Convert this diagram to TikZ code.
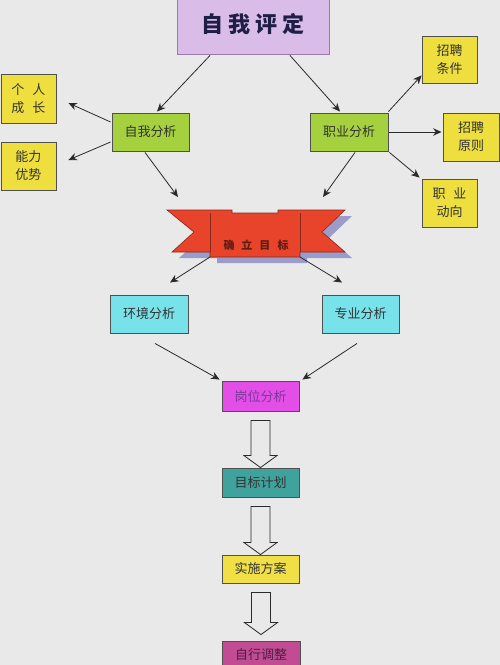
\documentclass[tikz,border=0pt]{standalone}
\usepackage{fontspec}
\newfontfamily\cjk{Noto Sans CJK SC}
\usetikzlibrary{arrows.meta,calc}
\definecolor{bg}{HTML}{E9E9E9}
\definecolor{lav}{HTML}{D9BCE8}
\definecolor{titleline}{HTML}{9A7AAA}
\definecolor{titletxt}{HTML}{1E1E46}
\definecolor{yel}{HTML}{EEDF3E}
\definecolor{grn}{HTML}{A5D13F}
\definecolor{cyn}{HTML}{78E2EA}
\definecolor{mag}{HTML}{E24EE6}
\definecolor{teal2}{HTML}{3FA29C}
\definecolor{yel2}{HTML}{F0E046}
\definecolor{plum}{HTML}{C24C94}
\definecolor{ribbon}{HTML}{E8442C}
\definecolor{ribbonline}{HTML}{8A2A1A}
\definecolor{ribbonshadow}{HTML}{9C9CCB}
\definecolor{boxline}{HTML}{505050}
\definecolor{arrline}{HTML}{2A2A2A}
\definecolor{txt}{HTML}{333333}
\begin{document}
\begin{tikzpicture}[x=1pt,y=-1pt,
  box/.style={draw=boxline, line width=0.9pt, inner sep=0pt, text=txt,
    font=\cjk\fontsize{13}{18}\selectfont, align=center},
  arr/.style={draw=arrline, line width=0.8pt, -{Stealth[length=8.5pt,width=7.5pt]}},
  pics/hollowarrow/.style={code={
    \draw[draw=arrline, line width=0.8pt, fill=bg, line join=miter]
      (0,0) -- (16.5,-12) -- (9.5,-12) -- (9.5,-#1) -- (-9.5,-#1)
      -- (-9.5,-12) -- (-16.5,-12) -- cycle;}}]
\useasboundingbox (0,0) rectangle (500,665);
\clip (0,0) rectangle (500,665);
\fill[bg] (0,0) rectangle (500,665);

% title
\node[box, fill=lav, draw=titleline, minimum width=152pt, minimum height=60pt,
  text=titletxt, font=\cjk\bfseries\fontsize{22}{22}\selectfont] (title) at (253,24)
  {\raisebox{-6pt}{自\hspace{5pt}我\hspace{5pt}评\hspace{5pt}定}};

% analysis boxes
\node[box, fill=grn, minimum width=77pt, minimum height=38pt] (ziwo) at (150.5,132) {自我分析};
\node[box, fill=grn, minimum width=78pt, minimum height=38pt] (zhiye) at (349,132) {职业分析};

% left yellow
\node[box, fill=yel, minimum width=55pt, minimum height=49pt] (ge) at (28.5,98.5) {个\hspace{8pt}人\\成\hspace{8pt}长};
\node[box, fill=yel, minimum width=55pt, minimum height=48pt] (neng) at (28.5,166) {能力\\优势};

% right yellow
\node[box, fill=yel, minimum width=55pt, minimum height=47pt] (zp1) at (449.5,59.5) {招聘\\条件};
\node[box, fill=yel, minimum width=56pt, minimum height=48pt] (zp2) at (471,137) {招聘\\原则};
\node[box, fill=yel, minimum width=55pt, minimum height=48pt] (dx) at (449.5,203) {职\hspace{8pt}业\\动向};

% banner
\coordinate (banner) at (256,235);
\fill[ribbonshadow, shift={(7,6)}]
  (167,210) -- (232,210) -- (232,213) -- (278,213) -- (278,210) -- (345,210)
  -- (322,232) -- (345,252) -- (300,252) -- (300,257) -- (210,257) -- (210,252)
  -- (172,252) -- (194,232) -- cycle;
\draw[fill=ribbon, draw=ribbonline, line width=0.6pt, line join=miter]
  (167,210) -- (232,210) -- (232,213) -- (278,213) -- (278,210) -- (345,210)
  -- (322,232) -- (345,252) -- (300,252) -- (300,257) -- (210,257) -- (210,252)
  -- (172,252) -- (194,232) -- cycle;
\draw[ribbonline, line width=0.4pt] (210,213) -- (210,252) (300,213) -- (300,252);
\node[text=ribbonline!70!black, font=\cjk\bfseries\fontsize{11}{11}\selectfont, inner sep=0pt]
  (bannertext) at (256,245) {确\hspace{7pt}立\hspace{7pt}目\hspace{7pt}标};

% second level
\node[box, fill=cyn, minimum width=78pt, minimum height=38pt] (hj) at (149,314) {环境分析};
\node[box, fill=cyn, minimum width=77pt, minimum height=38pt] (zy) at (360.5,314) {专业分析};
\node[box, fill=mag, minimum width=77pt, minimum height=30pt, text={rgb,255:red,122;green,58;blue,154}] (gw) at (260.5,396.5) {岗位分析};
\node[box, fill=teal2, minimum width=77pt, minimum height=29pt] (mb) at (260.5,482.5) {目标计划};
\node[box, fill=yel2, minimum width=77pt, minimum height=28pt] (ss) at (260.5,569) {实施方案};
\node[box, fill=plum, minimum width=78pt, minimum height=28pt, text={rgb,255:red,74;green,32;blue,64}] (zx) at (261,655) {自行调整};

% connectors
\draw[arr] ([xshift=-43pt,yshift=-1pt]title.south) -- ([xshift=6.5pt,yshift=1pt]ziwo.north);
\draw[arr] ([xshift=37pt,yshift=-1pt]title.south) -- ([xshift=-9pt,yshift=1pt]zhiye.north);
\draw[arr] ([xshift=-1pt,yshift=10pt]ziwo.west) -- ([xshift=12pt,yshift=-4.5pt]ge.east);
\draw[arr] ([xshift=-1pt,yshift=-10pt]ziwo.west) -- ([xshift=12pt,yshift=6pt]neng.east);
\draw[arr] ([xshift=-5.5pt,yshift=-1pt]ziwo.south) -- ([xshift=-78pt,yshift=38pt]banner);
\draw[arr] ([xshift=6pt,yshift=-1pt]zhiye.south) -- ([xshift=67pt,yshift=38pt]banner);
\draw[arr] ([yshift=1pt]zhiye.north east) -- ([yshift=8pt]zp1.south west);
\draw[arr] ([xshift=1pt]zhiye.east) -- ([xshift=-1pt,yshift=5pt]zp2.west);
\draw[arr] ([xshift=1pt,yshift=-1pt]zhiye.south east) -- ([xshift=-2pt,yshift=1pt]dx.north west);
\draw[arr] ([xshift=-46pt,yshift=-22pt]banner) -- ([xshift=21pt,yshift=12pt]hj.north);
\draw[arr] ([xshift=44pt,yshift=-22pt]banner) -- ([xshift=-18.5pt,yshift=12pt]zy.north);
\draw[arr] ([xshift=6pt,yshift=-10pt]hj.south) -- ([xshift=-2pt,yshift=1.5pt]gw.north west);
\draw[arr] ([xshift=-3.5pt,yshift=-10pt]zy.south) -- ([xshift=3pt,yshift=1.5pt]gw.north east);

% hollow arrows
\pic at (mb.north) {hollowarrow=47};
\pic at (ss.north) {hollowarrow=48};
\pic at ([yshift=6pt]zx.north) {hollowarrow=42};
\end{tikzpicture}
\end{document}
